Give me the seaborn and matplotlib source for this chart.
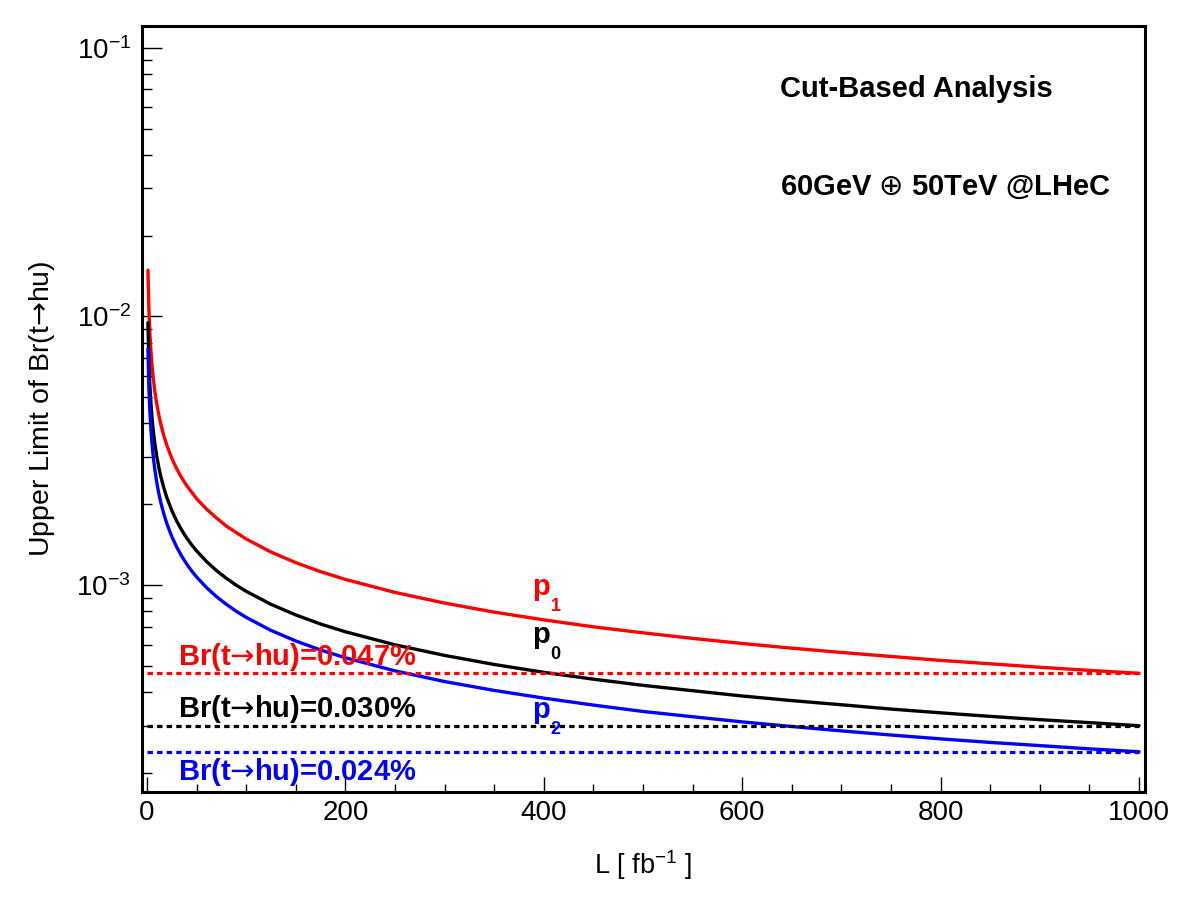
import numpy as np
import pandas as pd
import matplotlib
matplotlib.use("Agg")
import matplotlib.pyplot as plt
from matplotlib.ticker import LogLocator, MultipleLocator, NullFormatter
import seaborn as sns

sns.set_theme(style="ticks")
plt.rcParams['font.family'] = ['Liberation Sans', 'DejaVu Sans']
plt.rcParams['mathtext.fontset'] = 'custom'
plt.rcParams['mathtext.rm'] = 'Liberation Sans'
plt.rcParams['mathtext.it'] = 'Liberation Sans:italic'
plt.rcParams['mathtext.bf'] = 'Liberation Sans:bold'
for key in ['text.color', 'axes.labelcolor', 'xtick.color', 'ytick.color', 'axes.edgecolor']:
    plt.rcParams[key] = 'black'

# Integrated luminosity [fb^-1] and upper limits
lumi = [1, 2, 3, 4, 5, 6, 7, 8, 10, 12, 14, 17, 20, 25, 30, 35, 40, 45, 50, 60, 70, 80, 90,
        100, 125, 150, 175, 200, 250, 300, 350, 400, 450, 500, 550, 600, 650, 700, 750,
        800, 850, 900, 950, 1000]
limit_p1 = [0.01486, 0.01051, 0.00858, 0.00743, 0.00665, 0.00607, 0.00562, 0.00525,
            0.00470, 0.00429, 0.00397, 0.00360, 0.00332, 0.00297, 0.00271, 0.00251,
            0.00235, 0.00222, 0.00210, 0.00192, 0.00178, 0.00166, 0.00157,
            0.001486, 0.001329, 0.001213, 0.001123, 0.001051, 0.000940, 0.000858,
            0.000794, 0.000743, 0.000700, 0.000665, 0.000634, 0.000607, 0.000583,
            0.000562, 0.000543, 0.000525, 0.000510, 0.000495, 0.000482, 0.000470]
limit_p0 = [0.009487, 0.006708, 0.005477, 0.004743, 0.004243, 0.003873, 0.003586, 0.003354,
            0.003000, 0.002739, 0.002535, 0.002301, 0.002121, 0.001897, 0.001732, 0.001604,
            0.001500, 0.001414, 0.001342, 0.001225, 0.001134, 0.001061, 0.001000,
            0.000949, 0.000849, 0.000775, 0.000717, 0.000671, 0.000600, 0.000548,
            0.000507, 0.000474, 0.000447, 0.000424, 0.000405, 0.000387, 0.000372,
            0.000359, 0.000346, 0.000335, 0.000325, 0.000316, 0.000308, 0.000300]
limit_p2 = [0.00759, 0.005367, 0.004382, 0.003795, 0.003394, 0.003099, 0.002869, 0.002683,
            0.002400, 0.002191, 0.002028, 0.001841, 0.001697, 0.001518, 0.001386, 0.001283,
            0.001200, 0.001131, 0.001073, 0.000980, 0.000907, 0.000849, 0.000800,
            0.000759, 0.000679, 0.000620, 0.000574, 0.000537, 0.000480, 0.000438,
            0.000406, 0.000380, 0.000358, 0.000339, 0.000324, 0.000310, 0.000298,
            0.000287, 0.000277, 0.000268, 0.000260, 0.000253, 0.000246, 0.000240]

# limits reached at 1000 fb^-1 (dashed lines)
br_names = ["p1", "p0", "p2"]
br_at_1000 = [4.7e-4, 3.0e-4, 2.4e-4]
br_labels = ["Br(t$→$hu)=0.047%", "Br(t$→$hu)=0.030%", "Br(t$→$hu)=0.024%"]
p_subscripts = ["1", "0", "2"]
colors = {"p1": "#ff0000", "p0": "#000000", "p2": "#0000ff"}

df = pd.DataFrame({"L": lumi * 3,
                   "limit": limit_p1 + limit_p0 + limit_p2,
                   "point": ["p1"] * len(lumi) + ["p0"] * len(lumi) + ["p2"] * len(lumi)})

fig = plt.figure(figsize=(11.82, 9.0), dpi=100)
ax = fig.add_axes([142 / 1182, 1 - 792 / 900, 1003 / 1182, 766 / 900])

sns.lineplot(data=df, x="L", y="limit", hue="point", palette=colors,
             estimator=None, sort=False, lw=2.4, legend=False, ax=ax)

for name, br in zip(br_names, br_at_1000):
    sns.lineplot(x=[0, 1000], y=[br, br], color=colors[name], lw=2.3,
                 linestyle=(0, (1.7, 1.3)), ax=ax)

ax.set_yscale("log")
ax.set_xlim(-5, 1006)
ax.set_ylim(1.70e-4, 0.1205)

ax.xaxis.set_major_locator(MultipleLocator(200))
ax.xaxis.set_minor_locator(MultipleLocator(50))
ax.yaxis.set_major_locator(LogLocator(base=10))
ax.yaxis.set_minor_locator(LogLocator(base=10, subs=np.arange(2, 10)))
ax.yaxis.set_minor_formatter(NullFormatter())

ax.tick_params(axis="both", which="both", direction="in", top=False, right=False,
               width=1.0, colors="black")
ax.tick_params(axis="x", which="major", length=10.8, labelsize=20, pad=6)
ax.tick_params(axis="x", which="minor", length=5.8)
ax.tick_params(axis="y", which="major", length=14.4, labelsize=20, pad=8)
ax.tick_params(axis="y", which="minor", length=7.2)

for sp in ax.spines.values():
    sp.set_linewidth(2.2)
    sp.set_color("black")

ax.set_xlabel(r"L [ fb$^{-1}$ ]", fontsize=19.5)
ax.set_ylabel("Upper Limit of Br(t$→$hu)", fontsize=20.5, math_fontfamily="dejavusans")
ax.xaxis.set_label_coords(0.5, -0.073)
ax.yaxis.set_label_coords(-0.085, 0.5)

# annotations
ax.text(638, 0.0655, "Cut-Based Analysis", fontsize=21, fontweight="bold", va="baseline")
ax.text(638, 0.0283, r"60GeV $\oplus$ 50TeV @LHeC", fontsize=21, fontweight="bold",
        va="baseline", math_fontfamily="dejavusans")

br_text_y = [5.05e-4, 3.23e-4, 1.88e-4]
for name, label, ty in zip(br_names, br_labels, br_text_y):
    ax.text(31, ty, label, fontsize=21, fontweight="bold", color=colors[name],
            va="baseline", math_fontfamily="dejavusans")

p_text_y = [9.18e-4, 6.09e-4, 3.20e-4]
for name, sub, ty in zip(br_names, p_subscripts, p_text_y):
    ax.annotate("p", xy=(388, ty), fontsize=21, fontweight="bold", color=colors[name],
                va="baseline")
    ax.annotate(sub, xy=(388, ty), xytext=(13.5, -11.5), textcoords="offset points",
                fontsize=13, fontweight="bold", color=colors[name], va="baseline")

fig.savefig("out.png", dpi=100)
